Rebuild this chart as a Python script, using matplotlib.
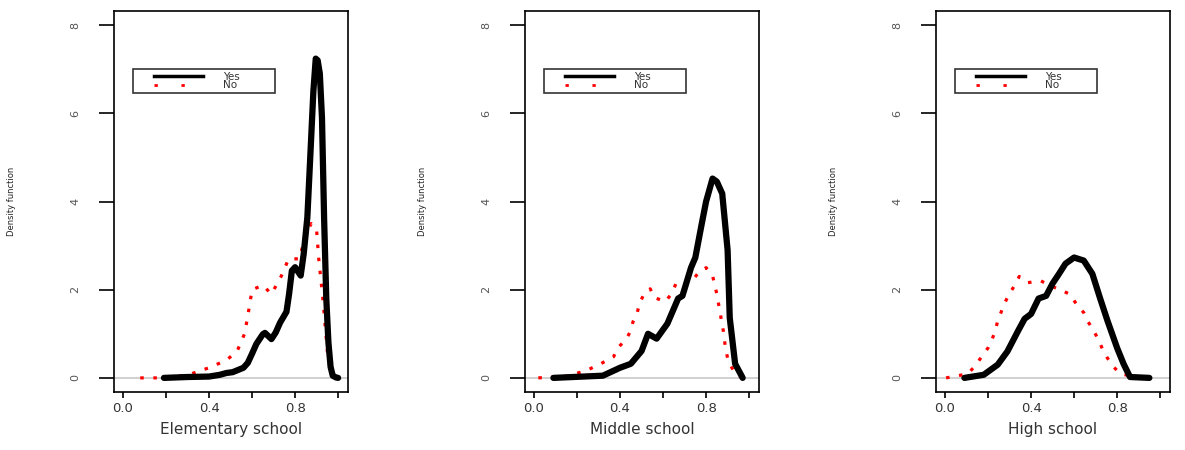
import numpy as np
import matplotlib
matplotlib.use('Agg')
import matplotlib.pyplot as plt
from matplotlib.lines import Line2D
from matplotlib.legend_handler import HandlerLine2D

# Elementary school
elem_yes_x = [0.19, 0.30, 0.40, 0.45, 0.48, 0.51, 0.56, 0.58, 0.60, 0.62, 0.65, 0.66,
              0.69, 0.71, 0.73, 0.76, 0.772, 0.785, 0.80, 0.826, 0.84, 0.857, 0.872,
              0.885, 0.896, 0.905, 0.915, 0.925, 0.935, 0.945, 0.955, 0.965, 0.975, 0.99, 1.0]
elem_yes_y = [0.0, 0.02, 0.03, 0.07, 0.11, 0.13, 0.23, 0.34, 0.55, 0.77, 0.99, 1.02,
              0.88, 1.03, 1.25, 1.5, 1.9, 2.43, 2.51, 2.32, 2.81, 3.64, 5.16,
              6.5, 7.24, 7.2, 6.9, 5.9, 3.6, 1.8, 0.8, 0.25, 0.05, 0.01, 0.0]
elem_no_x = [0.08, 0.21, 0.31, 0.40, 0.48, 0.53, 0.565, 0.58, 0.60, 0.65, 0.69, 0.735,
             0.77, 0.82, 0.85, 0.875, 0.90, 0.91, 0.93, 0.95, 0.98, 1.0]
elem_no_y = [0.0, 0.0, 0.08, 0.23, 0.4, 0.6, 1.0, 1.4, 2.0, 2.1, 1.9, 2.3,
             2.7, 2.7, 3.27, 3.5, 3.35, 2.7, 1.75, 0.6, 0.05, 0.0]

# Middle school
mid_yes_x = [0.09, 0.32, 0.40, 0.45, 0.50, 0.53, 0.57, 0.62, 0.67, 0.69, 0.73, 0.75,
             0.78, 0.80, 0.83, 0.85, 0.875, 0.90, 0.91, 0.935, 0.97]
mid_yes_y = [0.0, 0.05, 0.23, 0.32, 0.61, 1.0, 0.89, 1.23, 1.8, 1.86, 2.5, 2.73,
             3.5, 4.0, 4.52, 4.45, 4.18, 2.9, 1.36, 0.32, 0.0]
mid_no_x = [0.02, 0.15, 0.24, 0.31, 0.37, 0.39, 0.43, 0.45, 0.46, 0.48, 0.49, 0.51,
            0.54, 0.56, 0.61, 0.64, 0.66, 0.73, 0.76, 0.80, 0.83, 0.84, 0.85, 0.865,
            0.88, 0.89, 0.90, 0.915, 0.94, 0.97]
mid_no_y = [0.0, 0.04, 0.16, 0.32, 0.48, 0.68, 0.89, 1.07, 1.27, 1.48, 1.68, 1.89,
            2.02, 1.82, 1.73, 1.91, 2.14, 2.16, 2.36, 2.5, 2.32, 2.11, 1.9, 1.48,
            1.07, 0.68, 0.45, 0.27, 0.07, 0.0]

# High school
high_yes_x = [0.09, 0.18, 0.245, 0.29, 0.34, 0.37, 0.40, 0.435, 0.47, 0.50, 0.53, 0.56,
              0.60, 0.645, 0.685, 0.72, 0.755, 0.80, 0.83, 0.86, 0.95]
high_yes_y = [0.0, 0.07, 0.3, 0.6, 1.07, 1.34, 1.45, 1.8, 1.86, 2.14, 2.36, 2.59,
              2.73, 2.66, 2.36, 1.82, 1.3, 0.68, 0.32, 0.02, 0.0]
high_no_x = [0.005, 0.105, 0.14, 0.17, 0.20, 0.22, 0.235, 0.245, 0.26, 0.275, 0.30, 0.325,
             0.345, 0.385, 0.445, 0.51, 0.58, 0.61, 0.645, 0.665, 0.69, 0.71, 0.73,
             0.755, 0.78, 0.815, 0.92]
high_no_y = [0.0, 0.09, 0.27, 0.48, 0.68, 0.89, 1.09, 1.3, 1.48, 1.68, 1.91, 2.11,
             2.3, 2.16, 2.2, 2.05, 1.9, 1.68, 1.48, 1.27, 1.09, 0.89, 0.68,
             0.45, 0.27, 0.09, 0.0]

panel_names = ['Elementary school', 'Middle school', 'High school']
yes_x = [elem_yes_x, mid_yes_x, high_yes_x]
yes_y = [elem_yes_y, mid_yes_y, high_yes_y]
no_x = [elem_no_x, mid_no_x, high_no_x]
no_y = [elem_no_y, mid_no_y, high_no_y]

x_ticks = [0.0, 0.2, 0.4, 0.6, 0.8, 1.0]
x_labels = ['0.0', '', '0.4', '', '0.8', '']
y_ticks = [0, 2, 4, 6, 8]

plt.rcParams['font.family'] = 'DejaVu Sans'

fig = plt.figure(figsize=(11.85, 4.5), dpi=100)
lefts = [114 / 1185, 525 / 1185, 936 / 1185]
width = 234 / 1185
bottom = 58 / 450
height = 381 / 450

dotted = (0, (1.1, 3.0))

for i, name in enumerate(panel_names):
    ax = fig.add_axes([lefts[i], bottom, width, height])
    ax.axhline(0, color='#c8c8c8', lw=1.2, zorder=1)
    ax.plot(yes_x[i], yes_y[i], color='black', lw=4.5, solid_joinstyle='round',
            solid_capstyle='round', zorder=3)
    ax.plot(no_x[i], no_y[i], color='red', lw=2.3, linestyle=dotted,
            dash_capstyle='butt', zorder=2)
    ax.set_xlim(-0.042, 1.046)
    ax.set_ylim(-0.32, 8.32)
    ax.set_xticks(x_ticks)
    ax.set_xticklabels(x_labels)
    ax.set_yticks(y_ticks)
    ax.set_yticklabels([str(v) for v in y_ticks], rotation=90, va='center',
                       color='#555555')
    ax.tick_params(axis='x', length=4, width=1.2, pad=3, labelsize=9.5,
                   labelcolor='#333333')
    ax.tick_params(axis='y', length=10.5, width=1.2, pad=14, labelsize=8)
    for s in ax.spines.values():
        s.set_linewidth(1.2)
    ax.set_xlabel(name, fontsize=11, color='#333333', labelpad=5)
    ax.set_ylabel('Density function', fontsize=6, color='#222222')
    ax.yaxis.set_label_coords(-0.42, 0.5)

    handles = [Line2D([], [], color='black', lw=2.5),
               Line2D([], [], color='red', lw=2.0, linestyle=(0, (1.2, 8.5)),
                      dash_capstyle='butt')]
    leg = ax.legend(handles, ['Yes', 'No'], loc='upper left',
                    bbox_to_anchor=(0.081, 0.848, 0.608, 0.0), mode='expand',
                    fontsize=7.5, frameon=True, fancybox=False, borderpad=0.25,
                    labelspacing=-0.1, handlelength=6.5, handletextpad=1.9,
                    borderaxespad=0.0,
                    handler_map={Line2D: HandlerLine2D(xpad=1.8)})
    leg.get_frame().set_edgecolor('black')
    leg.get_frame().set_linewidth(1.2)
    for t in leg.get_texts():
        t.set_color('#333333')

fig.savefig('out.png', dpi=100)
